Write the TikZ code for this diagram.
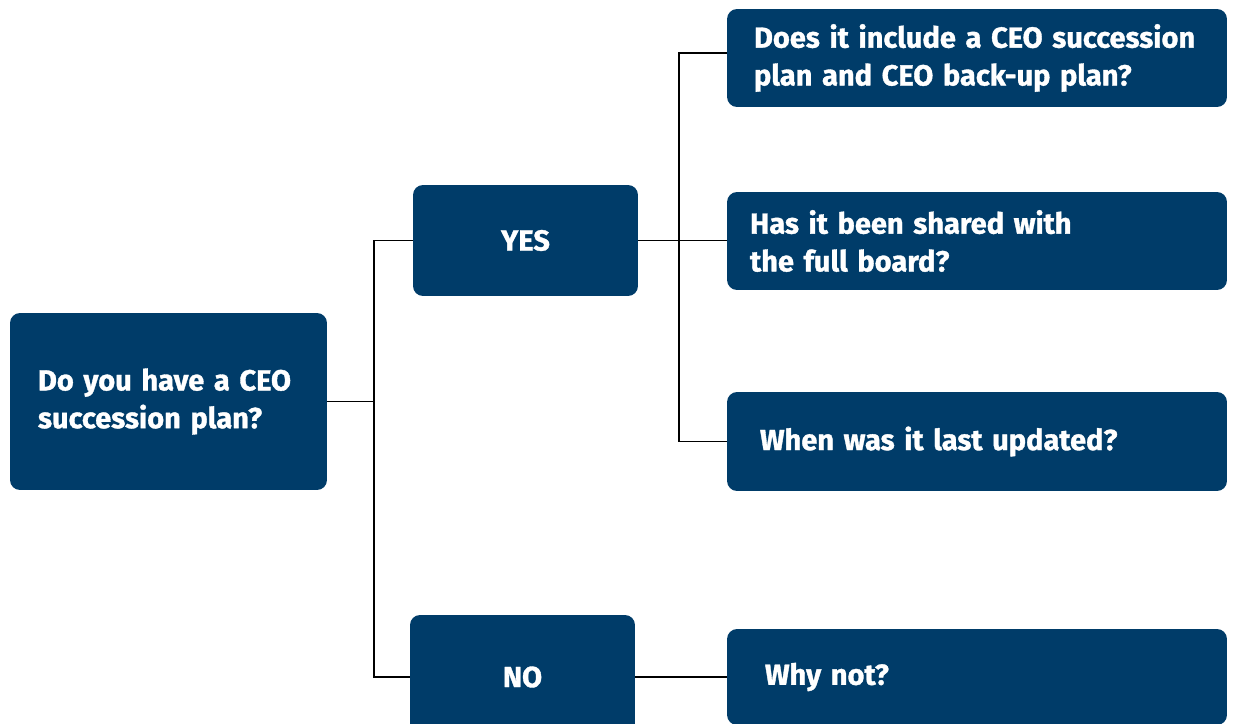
\documentclass[tikz,border=0pt]{standalone}
\usepackage{fontspec}
\setmainfont{Fira Sans}[BoldFeatures={FakeBold=1.2}]
\usetikzlibrary{positioning}
\definecolor{navy}{HTML}{003C69}

\tikzset{
  qbox/.style={fill=navy, rounded corners=0.2cm, text=white,
    font=\bfseries\fontsize{16.5}{21.5}\selectfont, align=left, inner ysep=0pt},
  ansbox/.style={qbox, align=center, minimum width=4.5cm},
  link/.style={line width=0.75pt}
}

\begin{document}
\begin{tikzpicture}[x=0.02cm, y=-0.02cm]
                \useasboundingbox (0,0) rectangle (1233,723);
                \clip (0,0) rectangle (1233,723);
                % question on the left
                \node[qbox, text width=5.22cm, inner xsep=0.56cm, minimum height=3.54cm] (plan) at (168.5,401.5)
                  {Do you have a CEO\\succession plan?};
                
                % answers
                \node[ansbox, minimum height=2.22cm] (yes) at (525.5,240.5) {YES};
                \node[ansbox, minimum height=2.48cm] (no) at (522.5,677) {NO};
                
                % follow-up questions
                \node[qbox, text width=8.92cm, inner xsep=0.54cm, minimum height=1.96cm] (include) at (977,58)
                  {Does it include a CEO succession\\plan and CEO back-up plan?};
                \node[qbox, text width=9.08cm, inner xsep=0.46cm, minimum height=1.96cm] (shared) at (977,241)
                  {Has it been shared with\\ the full board?};
                \node[qbox, text width=8.68cm, inner xsep=0.66cm, minimum height=1.98cm] (updated) at (977,441.5)
                  {When was it last updated?};
                \node[qbox, text width=8.48cm, inner xsep=0.76cm, minimum height=1.92cm] (whynot) at (977,677)
                  {Why not?};
                
                % Connections
                \coordinate (split1) at (374,0);
                \coordinate (split2) at (679,0);
                \draw[link] (plan.east) -- (plan.east -| split1);
                \draw[link] (yes.west) -| (no.west -| split1) -- (no.west);
                \draw[link] ([yshift=0.1cm]include.west) -| (updated.west -| split2) -- (updated.west);
                \draw[link] (yes.east) -- (yes.east -| shared.west);
                \draw[link] (no.east) -- (whynot.west);
            \end{tikzpicture}
\end{document}
